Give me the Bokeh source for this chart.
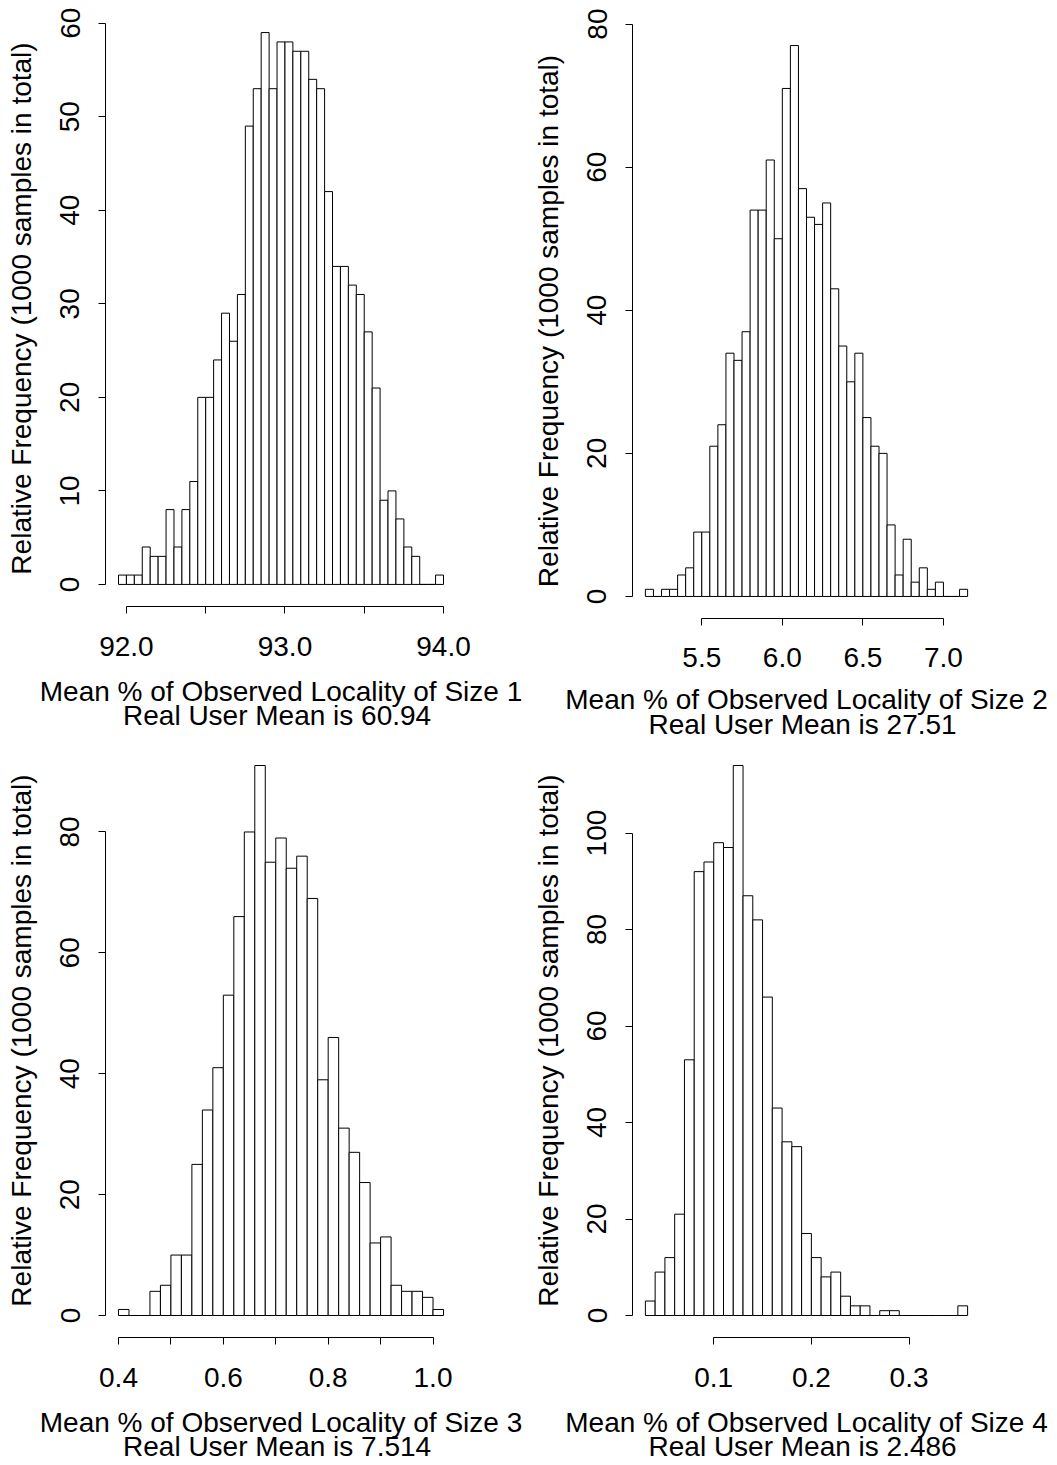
import json
from bokeh.plotting import figure
from bokeh.layouts import column, row
from bokeh.models import FixedTicker, CustomJSTickFormatter, Range1d
from bokeh.embed import file_html
from bokeh.resources import INLINE

# ---------------- data ----------------
# Panel 1: locality of size 1
breaks_1 = [91.95, 92.00, 92.05, 92.10, 92.15, 92.20, 92.25, 92.30, 92.35, 92.40,
            92.45, 92.50, 92.55, 92.60, 92.65, 92.70, 92.75, 92.80, 92.85, 92.90,
            92.95, 93.00, 93.05, 93.10, 93.15, 93.20, 93.25, 93.30, 93.35, 93.40,
            93.45, 93.50, 93.55, 93.60, 93.65, 93.70, 93.75, 93.80, 93.85, 93.90,
            93.95, 94.00]
counts_1 = [1, 1, 1, 4, 3, 3, 8, 4, 8, 11, 20, 20, 24, 29, 26, 31, 49, 53, 59, 53,
            58, 58, 57, 57, 54, 53, 42, 34, 34, 32, 31, 27, 21, 9, 10, 7, 4, 3, 0, 0, 1]
xticks_1 = [92.0, 92.5, 93.0, 93.5, 94.0]
xlabels_1 = ["92.0", "", "93.0", "", "94.0"]
yticks_1 = [0, 10, 20, 30, 40, 50, 60]
mean_1 = "60.94"

# Panel 2: locality of size 2
breaks_2 = [5.15, 5.20, 5.25, 5.30, 5.35, 5.40, 5.45, 5.50, 5.55, 5.60,
            5.65, 5.70, 5.75, 5.80, 5.85, 5.90, 5.95, 6.00, 6.05, 6.10,
            6.15, 6.20, 6.25, 6.30, 6.35, 6.40, 6.45, 6.50, 6.55, 6.60,
            6.65, 6.70, 6.75, 6.80, 6.85, 6.90, 6.95, 7.00, 7.05, 7.10, 7.15]
counts_2 = [1, 0, 1, 1, 3, 4, 9, 9, 21, 24, 34, 33, 37, 54, 54, 61, 50, 71, 77, 57,
            53, 52, 55, 43, 35, 30, 34, 25, 21, 20, 10, 3, 8, 2, 4, 1, 2, 0, 0, 1]
xticks_2 = [5.5, 6.0, 6.5, 7.0]
xlabels_2 = ["5.5", "6.0", "6.5", "7.0"]
yticks_2 = [0, 20, 40, 60, 80]
mean_2 = "27.51"

# Panel 3: locality of size 3
breaks_3 = [0.40, 0.42, 0.44, 0.46, 0.48, 0.50, 0.52, 0.54, 0.56, 0.58,
            0.60, 0.62, 0.64, 0.66, 0.68, 0.70, 0.72, 0.74, 0.76, 0.78,
            0.80, 0.82, 0.84, 0.86, 0.88, 0.90, 0.92, 0.94, 0.96, 0.98,
            1.00, 1.02]
counts_3 = [1, 0, 0, 4, 5, 10, 10, 25, 34, 41, 53, 66, 80, 91, 75, 79, 74, 76, 69, 39,
            46, 31, 27, 22, 12, 13, 5, 4, 4, 3, 1]
xticks_3 = [0.4, 0.5, 0.6, 0.7, 0.8, 0.9, 1.0]
xlabels_3 = ["0.4", "", "0.6", "", "0.8", "", "1.0"]
yticks_3 = [0, 20, 40, 60, 80]
mean_3 = "7.514"

# Panel 4: locality of size 4
breaks_4 = [0.03, 0.04, 0.05, 0.06, 0.07, 0.08, 0.09, 0.10, 0.11, 0.12,
            0.13, 0.14, 0.15, 0.16, 0.17, 0.18, 0.19, 0.20, 0.21, 0.22,
            0.23, 0.24, 0.25, 0.26, 0.27, 0.28, 0.29, 0.30, 0.31, 0.32,
            0.33, 0.34, 0.35, 0.36]
counts_4 = [3, 9, 12, 21, 53, 92, 94, 98, 97, 114, 87, 82, 66, 43, 36, 35, 17, 12, 8, 9,
            4, 2, 2, 0, 1, 1, 0, 0, 0, 0, 0, 0, 2]
xticks_4 = [0.1, 0.2, 0.3]
xlabels_4 = ["0.1", "0.2", "0.3"]
yticks_4 = [0, 20, 40, 60, 80, 100]
mean_4 = "2.486"

Y_TITLE = "Relative Frequency (1000 samples in total)"
FONT = "Liberation Sans"
FS = "28px"


def make_panel(breaks, counts, xticks, xlabels, yticks, size_no, mean,
               width, height, b_left, b_right, b_top, b_bottom,
               xt_standoff, xl_standoff, line_h):
    x0, x1 = breaks[0], breaks[-1]
    dx = (x1 - x0) * 0.04
    ymax = max(counts)
    p = figure(width=width, height=height, output_backend="svg",
               toolbar_location=None,
               x_range=Range1d(x0 - dx, x1 + dx),
               y_range=Range1d(-0.04 * ymax, 1.04 * ymax),
               min_border_left=b_left, min_border_right=b_right,
               min_border_top=b_top, min_border_bottom=b_bottom)
    p.quad(left=breaks[:-1], right=breaks[1:], top=counts, bottom=0,
           fill_color="white", line_color="black", line_width=1)
    p.outline_line_color = None
    p.grid.visible = False
    p.background_fill_color = "white"
    p.border_fill_color = "white"

    mapping = {"%.3f" % t: lab for t, lab in zip(xticks, xlabels)}
    code = ("const m = %s; const k = tick.toFixed(3); "
            "return (k in m) ? m[k] : '';" % json.dumps(mapping))
    xa = p.xaxis[0]
    xa.ticker = FixedTicker(ticks=xticks, minor_ticks=[])
    xa.formatter = CustomJSTickFormatter(code=code)
    xa.bounds = (xticks[0], xticks[-1])
    xa.axis_label = ("Mean % of Observed Locality of Size " + str(size_no)
                     + "\nReal User Mean is  " + mean)

    ya = p.yaxis[0]
    ya.ticker = FixedTicker(ticks=yticks, minor_ticks=[])
    ya.bounds = (yticks[0], yticks[-1])
    ya.axis_label = Y_TITLE
    ya.major_label_orientation = "vertical"

    for ax in (xa, ya):
        ax.axis_line_color = "black"
        ax.axis_line_width = 1
        ax.major_tick_line_color = "black"
        ax.major_tick_out = 7
        ax.major_tick_in = 0
        ax.minor_tick_line_color = None
        ax.major_label_text_font = FONT
        ax.major_label_text_font_size = FS
        ax.major_label_text_color = "black"
        ax.axis_label_text_font = FONT
        ax.axis_label_text_font_size = FS
        ax.axis_label_text_font_style = "normal"
        ax.axis_label_text_color = "black"
    xa.major_label_standoff = xt_standoff
    xa.axis_label_standoff = xl_standoff
    xa.axis_label_text_line_height = line_h
    ya.major_label_standoff = 19
    ya.axis_label_standoff = 21
    return p


p1 = make_panel(breaks_1, counts_1, xticks_1, xlabels_1, yticks_1, 1, mean_1,
                528, 743, 105, 72, 10, 137, 23, 17, 0.8)
p2 = make_panel(breaks_2, counts_2, xticks_2, xlabels_2, yticks_2, 2, mean_2,
                529, 743, 104, 77, 23, 124, 22, 14, 0.83)
p3 = make_panel(breaks_3, counts_3, xticks_3, xlabels_3, yticks_3, 3, mean_3,
                528, 722, 105, 72, 0, 126, 23, 17, 0.8)
p4 = make_panel(breaks_4, counts_4, xticks_4, xlabels_4, yticks_4, 4, mean_4,
                529, 722, 104, 77, 0, 126, 23, 17, 0.8)

# columns side by side, so that the two plots of a row keep their own frames
layout = row(column(p1, p3, spacing=0), column(p2, p4, spacing=0), spacing=0)

with open("out.html", "w") as f:
    f.write(file_html(layout, INLINE))
